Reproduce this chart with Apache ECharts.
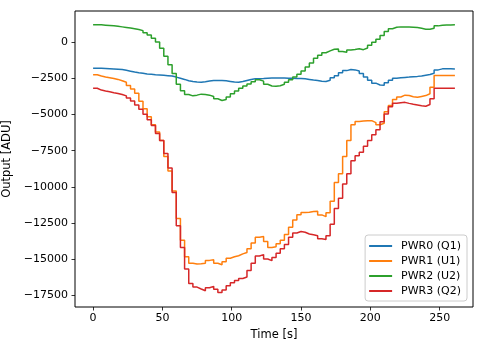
<!DOCTYPE html>
<html>
<head>
<meta charset="utf-8">
<script src="https://cdn.jsdelivr.net/npm/echarts@6/dist/echarts.min.js"></script>
<style>
  html, body { margin: 0; padding: 0; background: #fff; }
  #chart { width: 483px; height: 347px; }
</style>
</head>
<body>
<div id="chart"></div>
<script>
// Sample times [s]
const times = [
  0, 3, 6, 9, 12, 15, 18, 21, 24, 27,
  30, 33, 36, 39, 42, 45, 48, 51, 54, 57,
  60, 63, 66, 69, 72, 75, 78, 81, 84, 87,
  90, 93, 96, 99, 102, 105, 108, 111, 114, 117,
  120, 123, 126, 129, 132, 135, 138, 141, 144, 147,
  150, 153, 156, 159, 162, 165, 168, 171, 174, 177,
  180, 183, 186, 189, 192, 195, 198, 201, 204, 207,
  210, 213, 216, 219, 222, 225, 228, 231, 234, 237,
  240, 243, 246, 249, 252, 255, 258, 261
];

// Output of each power channel [ADU]
const pwr0 = [
  -1780, -1790, -1800, -1820, -1840, -1860, -1880, -1930, -1990, -2050,
  -2100, -2140, -2180, -2210, -2240, -2260, -2280, -2300, -2330, -2400,
  -2480, -2560, -2650, -2710, -2740, -2750, -2720, -2670, -2640, -2630,
  -2640, -2660, -2700, -2740, -2750, -2700, -2630, -2560, -2520, -2510,
  -2500, -2480, -2470, -2470, -2460, -2470, -2480, -2480, -2490, -2500,
  -2520, -2560, -2600, -2630, -2680, -2700, -2620, -2450, -2300, -2100,
  -1950, -1880, -1900, -1980, -2150, -2400, -2620, -2820, -2950, -2960,
  -2800, -2620, -2480, -2440, -2420, -2400, -2370, -2350, -2320, -2270,
  -2220, -2130, -1900, -1830, -1830, -1830, -1840, -1840
];
const pwr1 = [
  -2240, -2330, -2400, -2450, -2500, -2560, -2650, -2760, -2980, -3220,
  -3520, -4080, -4600, -5150, -5700, -6200, -6800, -7900, -8900, -10300,
  -12200, -13700, -14850, -15300, -15350, -15330, -15300, -15100, -15050, -15300,
  -15400, -15200, -14950, -14850, -14780, -14650, -14550, -14300, -13900, -13500,
  -13450, -13800, -14200, -14150, -13950, -13700, -13300, -12800, -12300, -11930,
  -11780, -11760, -11720, -11700, -11950, -12070, -11800, -11000, -9700, -9100,
  -7900, -6800, -5700, -5480, -5450, -5420, -5420, -5550, -5700, -5600,
  -4800, -4370, -3950, -3780, -3650, -3680, -3760, -3800, -3740, -3680,
  -3550, -3100, -2290, -2290, -2290, -2290, -2290, -2290
];
const pwr2 = [
  1230, 1220, 1200, 1180, 1150, 1120, 1080, 1040, 1000, 950,
  900, 820, 680, 520, 300, 30, -400, -950, -1550, -2150,
  -2900, -3350, -3600, -3700, -3650, -3580, -3600, -3650, -3750, -3900,
  -4020, -3950, -3780, -3560, -3360, -3180, -3020, -2880, -2720, -2580,
  -2680, -2900, -3020, -3040, -3000, -2900, -2750, -2580, -2400, -2200,
  -1980, -1700, -1420, -1100, -880, -710, -580, -470, -450, -620,
  -680, -520, -480, -430, -500, -380, -200, 20, 220, 480,
  760, 950, 1050, 1080, 1080, 1070, 1060, 1030, 980, 920,
  920, 980, 1150, 1200, 1210, 1210, 1220, 1220
];
const pwr3 = [
  -3170, -3300, -3370, -3420, -3480, -3530, -3600, -3700, -3840, -4060,
  -4330, -4620, -4980, -5350, -5750, -6300, -6800, -7700, -8700, -10400,
  -12700, -14200, -15700, -16700, -16950, -17080, -17200, -17000, -16900, -17100,
  -17320, -17150, -16850, -16650, -16500, -16350, -16250, -15800, -15300, -14800,
  -14700, -15000, -15120, -14900, -14600, -14300, -14000, -13500, -13200, -13100,
  -13150, -13270, -13330, -13390, -13600, -13650, -13400, -12600, -11500, -10800,
  -9800, -9100, -8200, -7850, -7600, -7200, -6800, -6400, -6050, -5500,
  -4950, -4450, -4220, -4180, -4150, -4220, -4280, -4330, -4380, -4420,
  -4300, -3900, -3170, -3170, -3170, -3170, -3170, -3170
];

const seriesNames = ['PWR0 (Q1)', 'PWR1 (U1)', 'PWR2 (U2)', 'PWR3 (Q2)'];
const seriesColors = ['#1f77b4', '#ff7f0e', '#2ca02c', '#d62728'];
const xTicks = [0, 50, 100, 150, 200, 250];
const yTicks = [0, -2500, -5000, -7500, -10000, -12500, -15000, -17500];

const font = 'DejaVu Sans';
const fs = 11;
const minus = v => String(v).replace('-', '\u2212');

const chart = echarts.init(document.getElementById('chart'), null, { renderer: 'canvas' });

const channels = [pwr0, pwr1, pwr2, pwr3];

chart.setOption({
  animation: false,
  backgroundColor: '#fff',
  textStyle: { fontFamily: font },
  grid: {
    left: 75, right: 10, top: 11, bottom: 40,
    outerBoundsMode: 'none',
    containLabel: false,
    show: true, borderColor: '#000', borderWidth: 1, backgroundColor: 'transparent'
  },
  legend: {
    orient: 'vertical',
    right: 16,
    bottom: 46,
    icon: 'rect',
    itemWidth: 23,
    itemHeight: 2,
    itemGap: 3,
    padding: [5, 6, 4, 4],
    backgroundColor: 'rgba(255,255,255,0.8)',
    borderColor: '#cccccc',
    borderWidth: 1,
    borderRadius: 3,
    textStyle: { fontFamily: font, fontSize: fs, color: '#000', lineHeight: 12, padding: [0, 0, 0, 4] },
    data: seriesNames
  },
  xAxis: {
    type: 'value',
    min: -13.05,
    max: 274.05,
    name: 'Time [s]',
    nameLocation: 'middle',
    nameGap: 20,
    nameTextStyle: { fontFamily: font, fontSize: 11.5, color: '#000' },
    axisLine: { show: false, onZero: false },
    splitLine: { show: false },
    axisTick: {
      show: true, inside: false, length: 3.5,
      lineStyle: { color: '#000', width: 0.8 },
      customValues: xTicks
    },
    axisLabel: {
      margin: 6,
      fontFamily: font, fontSize: fs, color: '#000',
      customValues: xTicks,
      formatter: minus
    }
  },
  yAxis: {
    type: 'value',
    min: -18330,
    max: 2180,
    name: 'Output [ADU]',
    nameLocation: 'middle',
    nameGap: 52,
    nameTextStyle: { fontFamily: font, fontSize: 11.5, color: '#000' },
    axisLine: { show: false, onZero: false },
    splitLine: { show: false },
    axisTick: {
      show: true, inside: false, length: 3.5,
      lineStyle: { color: '#000', width: 0.8 },
      customValues: yTicks
    },
    axisLabel: {
      margin: 7,
      fontFamily: font, fontSize: fs, color: '#000',
      customValues: yTicks,
      formatter: minus
    }
  },
  series: channels.map((vals, i) => ({
    name: seriesNames[i],
    type: 'line',
    step: 'end',
    showSymbol: false,
    symbol: 'none',
    color: seriesColors[i],
    lineStyle: { width: 1.5, color: seriesColors[i] },
    data: times.map((t, k) => [t, vals[k]])
  }))
});
</script>
</body>
</html>
